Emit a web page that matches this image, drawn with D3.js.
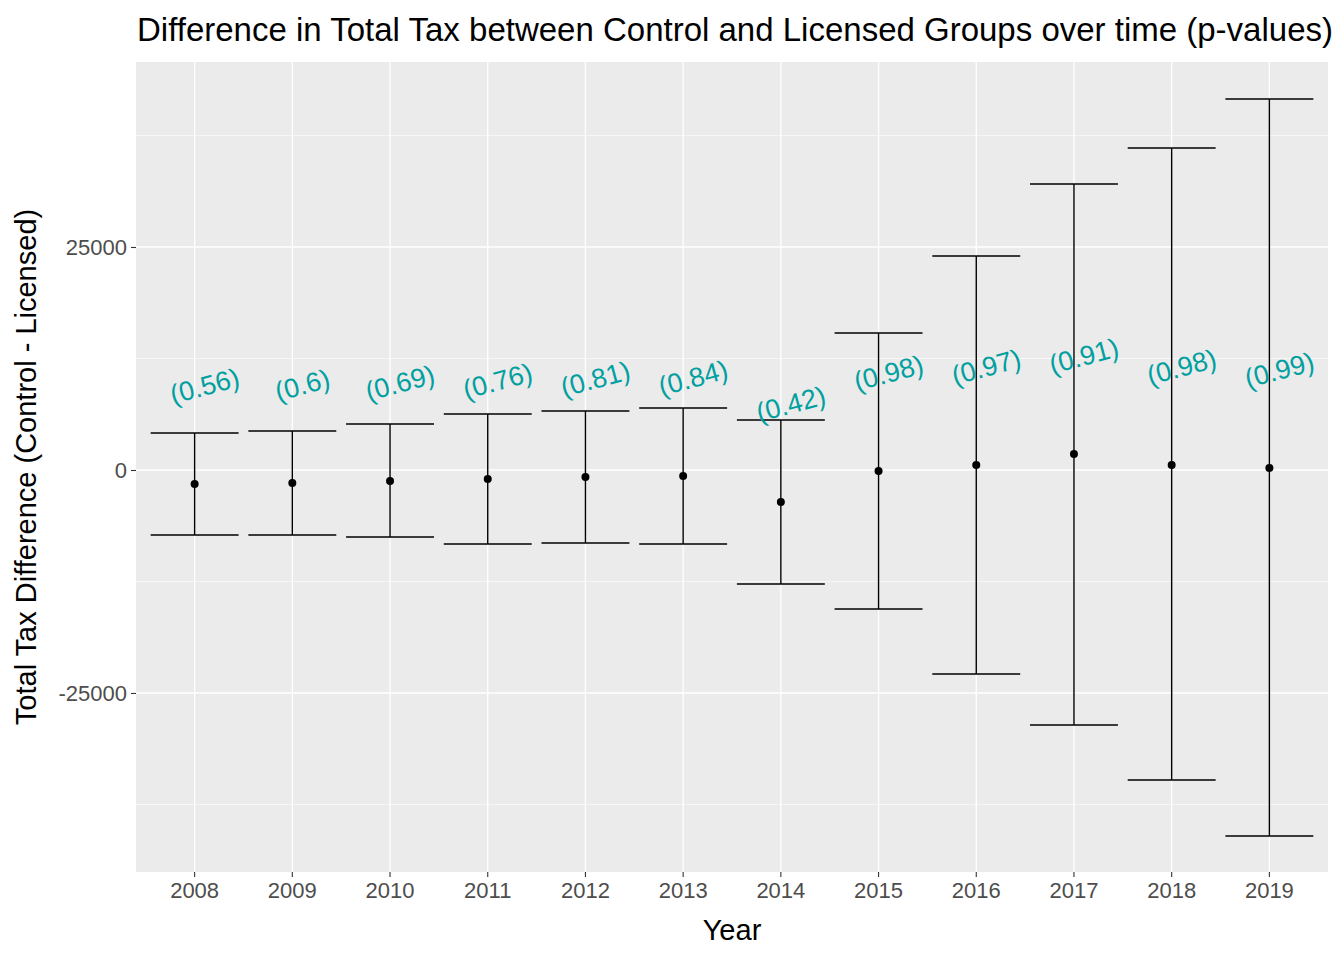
<!DOCTYPE html>
<html><head><meta charset="utf-8">
<script src="https://cdn.jsdelivr.net/npm/d3@7"></script>
<style>body{margin:0;background:#fff;overflow:hidden}text{font-family:Arial,"Liberation Sans",sans-serif}</style>
</head><body><div id="chart"></div>
<script>
var years = ["2008","2009","2010","2011","2012","2013","2014","2015","2016","2017","2018","2019"];
var means = [-1570,-1460,-1230,-1010,-780,-670,-3590,-110,560,1790,560,220];
var uppers = [4150,4370,5160,6280,6610,6950,5610,15360,23990,32060,36100,41590];
var lowers = [-7290,-7290,-7510,-8300,-8180,-8300,-12780,-15580,-22870,-28590,-34750,-41030];
var pvals = ["(0.56)","(0.6)","(0.69)","(0.76)","(0.81)","(0.84)","(0.42)","(0.98)","(0.97)","(0.91)","(0.98)","(0.99)"];
var yTicks = [-25000,0,25000];
var yMinor = [-37500,-12500,12500,37500];

var W = 1344, H = 960;
var margin = {top: 62, right: 16, bottom: 88, left: 136};
var width = W - margin.left - margin.right;
var height = H - margin.top - margin.bottom;

var x = d3.scaleBand().domain(years).range([0, width]).paddingOuter(0.1).paddingInner(0);
var y = d3.scaleLinear().domain([-45070, 45740]).range([height, 0]);

var svg = d3.select("#chart").append("svg").attr("width", W).attr("height", H);
var g = svg.append("g").attr("transform", "translate(" + margin.left + "," + margin.top + ")");

g.append("rect").attr("width", width).attr("height", height).attr("fill", "#ebebeb");
g.selectAll(".minor").data(yMinor).enter().append("line")
  .attr("x1", 0).attr("x2", width).attr("y1", d => y(d)).attr("y2", d => y(d))
  .attr("stroke", "#fff").attr("stroke-width", 0.6);
g.selectAll(".major").data(yTicks).enter().append("line")
  .attr("x1", 0).attr("x2", width).attr("y1", d => y(d)).attr("y2", d => y(d))
  .attr("stroke", "#fff").attr("stroke-width", 1.3);
g.selectAll(".vmajor").data(years).enter().append("line")
  .attr("x1", d => x(d) + x.bandwidth() / 2).attr("x2", d => x(d) + x.bandwidth() / 2)
  .attr("y1", 0).attr("y2", height).attr("stroke", "#fff").attr("stroke-width", 1.3);

var data = years.map((yr, i) => ({yr: yr, m: means[i], u: uppers[i], l: lowers[i], p: pvals[i]}));
var cap = x.bandwidth() * 0.45;
data.forEach(function (d) {
  var cx = x(d.yr) + x.bandwidth() / 2;
  g.append("line").attr("x1", cx).attr("x2", cx).attr("y1", y(d.u)).attr("y2", y(d.l)).attr("stroke", "#000").attr("stroke-width", 1.4);
  g.append("line").attr("x1", cx - cap).attr("x2", cx + cap).attr("y1", y(d.u)).attr("y2", y(d.u)).attr("stroke", "#000").attr("stroke-width", 1.4);
  g.append("line").attr("x1", cx - cap).attr("x2", cx + cap).attr("y1", y(d.l)).attr("y2", y(d.l)).attr("stroke", "#000").attr("stroke-width", 1.4);
  g.append("circle").attr("cx", cx).attr("cy", y(d.m)).attr("r", 4).attr("fill", "#000");
  var ly = y(d.m + 11000);
  g.append("text").attr("transform", "translate(" + (cx + 10) + "," + ly + ") rotate(-15)")
    .attr("text-anchor", "middle").attr("dy", "0.35em").attr("fill", "#00a0a0")
    .style("font-size", "27px").text(d.p);
});

var xAxis = g.append("g").attr("transform", "translate(0," + height + ")")
  .call(d3.axisBottom(x).tickSize(5).tickPadding(5));
var yAxis = g.append("g").call(d3.axisLeft(y).tickValues(yTicks).tickSize(5).tickPadding(4).tickFormat(d => String(d)));
[xAxis, yAxis].forEach(function (a) {
  a.select(".domain").remove();
  a.selectAll(".tick line").attr("stroke", "#333").attr("stroke-width", 1.1);
  a.selectAll(".tick text").attr("fill", "#4d4d4d").style("font-size", "22px");
});

svg.append("text").attr("x", margin.left + width / 2).attr("y", 940).attr("text-anchor", "middle")
  .style("font-size", "29px").text("Year");
svg.append("text").attr("transform", "translate(36," + (margin.top + height / 2) + ") rotate(-90)")
  .attr("text-anchor", "middle").style("font-size", "29px").text("Total Tax Difference (Control - Licensed)");
svg.append("text").attr("x", 137).attr("y", 41).style("font-size", "33px")
  .text("Difference in Total Tax between Control and Licensed Groups over time (p-values)");
</script></body></html>
